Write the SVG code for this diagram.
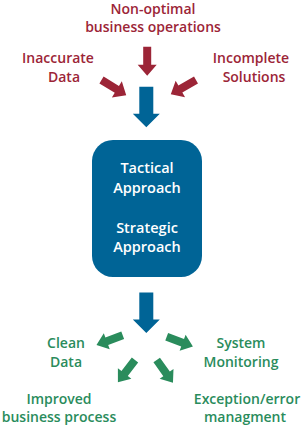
<svg xmlns="http://www.w3.org/2000/svg" width="302" height="429" viewBox="0 0 302 429">
<style>
text{font-family:"Open Sans","Noto Sans",sans-serif;font-size:14px;font-weight:600;text-anchor:middle}
.r{fill:#9c2537}
.g{fill:#2a8c5c}
.w{fill:#ffffff;font-size:14.5px}
.ra{fill:#9c2537}
.ga{fill:#2a8c5c}
.ba{fill:#006496}
</style>
<defs>
<path id="arR" d="M0,-4 H18 V-9.5 L29,0 L18,9.5 V4 H0 Z"/>
<path id="arG" d="M0,-4 H17 V-8.5 L28,0 L17,8.5 V4 H0 Z"/>
<path id="arB" d="M0,-7 H27 V-13.5 L40.5,0 L27,13.5 V7 H0 Z"/>
</defs>
<g id="connectors">
<use href="#arR" class="ra" transform="translate(147.2,46.7) rotate(90)"/>
<use href="#arR" class="ra" transform="translate(101.5,80) rotate(31.5)"/>
<use href="#arR" class="ra" transform="translate(196,80) rotate(150.3)"/>
<use href="#arB" class="ba" transform="translate(146.3,86.7) rotate(90)"/>
<use href="#arB" class="ba" transform="translate(146.3,292.5) rotate(90)"/>
<use href="#arG" class="ga" transform="translate(122.7,335.3) rotate(159.5)"/>
<use href="#arG" class="ga" transform="translate(166.7,336.7) rotate(20.6)"/>
<use href="#arG" class="ga" transform="translate(135,360) rotate(127.6)"/>
<use href="#arG" class="ga" transform="translate(156.7,360) rotate(54.5)"/>
</g>
<g id="non-optimal">
<text class="r" x="153" y="13.5">Non-optimal</text>
<text class="r" x="153" y="31.5">business operations</text>
</g>
<g id="inaccurate-data">
<text class="r" x="58" y="63">Inaccurate</text>
<text class="r" x="64" y="82">Data</text>
</g>
<g id="incomplete-solutions">
<text class="r" x="251" y="63">Incomplete</text>
<text class="r" x="254" y="82">Solutions</text>
</g>
<g id="approach">
<rect x="92" y="140" width="110" height="137" rx="21" fill="#006496"/>
<text class="w" x="147" y="173">Tactical</text>
<text class="w" x="147" y="193">Approach</text>
<text class="w" x="147" y="233">Strategic</text>
<text class="w" x="147" y="252">Approach</text>
</g>
<g id="clean-data">
<text class="g" x="66" y="348">Clean</text>
<text class="g" x="66" y="367">Data</text>
</g>
<g id="system-monitoring">
<text class="g" x="241" y="348">System</text>
<text class="g" x="241" y="367">Monitoring</text>
</g>
<g id="improved-business-process">
<text class="g" x="59" y="404">Improved</text>
<text class="g" x="59" y="422">business process</text>
</g>
<g id="exception-error">
<text class="g" x="247" y="404">Exception/error</text>
<text class="g" x="245" y="422">managment</text>
</g>
</svg>
